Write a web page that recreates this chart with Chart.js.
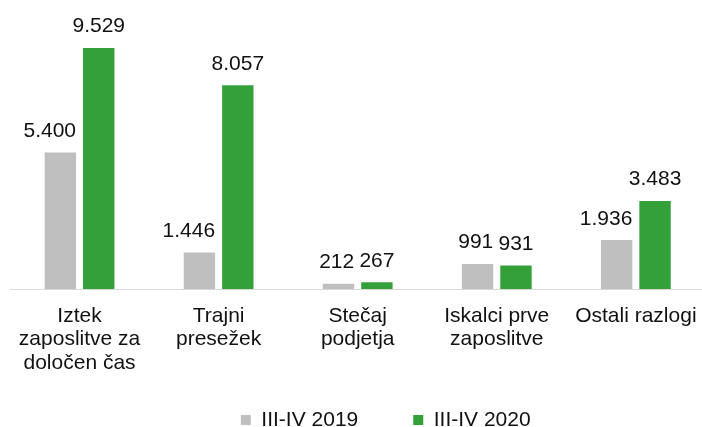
<!DOCTYPE html>
<html><head><meta charset="utf-8">
<script src="https://cdn.jsdelivr.net/npm/chart.js@4"></script>
<style>
html,body{margin:0;padding:0;background:#fff;overflow:hidden}
#wrap{width:702px;height:427px;overflow:hidden;position:relative;background:#fff}
canvas{display:block}
</style></head><body>
<div id="wrap"><canvas id="c" width="712" height="461" style="width:712px;height:461px"></canvas></div>
<script>
const categories = [['Iztek','zaposlitve za','določen čas'],['Trajni','presežek'],['Stečaj','podjetja'],['Iskalci prve','zaposlitve'],['Ostali razlogi']];
const seriesNames = ['III-IV 2019','III-IV 2020'];
const values2019 = [5400,1446,212,991,1936];
const values2020 = [9529,8057,267,931,3483];
const yMax = 10000;

const FONT = '"Liberation Sans", Arial, sans-serif';
const TEXT = '#111111';
const fmt = v => String(v).replace(/\B(?=(\d{3})+(?!\d))/g, '.');

const valueLabels = {
  id: 'valueLabels',
  afterDatasetsDraw(chart) {
    const ctx = chart.ctx;
    ctx.save();
    ctx.font = '21px ' + FONT;
    ctx.fillStyle = TEXT;
    ctx.textBaseline = 'alphabetic';
    chart.data.datasets.forEach((ds, i) => {
      const meta = chart.getDatasetMeta(i);
      meta.data.forEach((bar, j) => {
        const txt = fmt(ds.data[j]);
        const y = bar.y - 15.5;
        if (ds.labelAlign === 'right') {
          ctx.textAlign = 'right';
          ctx.fillText(txt, bar.x + bar.width / 2, y);
        } else {
          ctx.textAlign = 'center';
          ctx.fillText(txt, bar.x, y);
        }
      });
    });
    ctx.restore();
  }
};

const legendShift = {
  id: 'legendShift',
  afterLayout(chart) {
    const l = chart.legend;
    if (l) { l.left += 27; l.right += 27; l.top -= 20.5; l.bottom -= 20.5; }
  }
};

Chart.defaults.font.family = FONT;
Chart.defaults.color = TEXT;

new Chart(document.getElementById('c'), {
  type: 'bar',
  data: {
    labels: categories,
    datasets: [
      { label: seriesNames[0], data: values2019, backgroundColor: '#BFBFBF', borderWidth: 0,
        barPercentage: 0.818, categoryPercentage: 0.552, labelAlign: 'right' },
      { label: seriesNames[1], data: values2020, backgroundColor: '#33A03A', borderWidth: 0,
        barPercentage: 0.818, categoryPercentage: 0.552, labelAlign: 'center' }
    ]
  },
  options: {
    responsive: false,
    animation: false,
    devicePixelRatio: 1,
    layout: { padding: { top: 36, left: 10, right: 4.5, bottom: 0 } },
    plugins: {
      legend: {
        position: 'bottom',
        labels: { boxWidth: 10, boxHeight: 10, padding: 55, color: TEXT, font: { size: 21, family: FONT } }
      },
      tooltip: { enabled: false }
    },
    scales: {
      x: {
        grid: { display: false, drawTicks: false },
        border: { display: true, color: '#D9D9D9', width: 1 },
        ticks: { color: TEXT, font: { size: 21, family: FONT, lineHeight: 1.12 }, padding: 15, maxRotation: 0, minRotation: 0, autoSkip: false },
        afterFit(s) { s.height = 86; }
      },
      y: { display: false, min: 0, max: yMax }
    }
  },
  plugins: [valueLabels, legendShift]
});
</script>
</body></html>
